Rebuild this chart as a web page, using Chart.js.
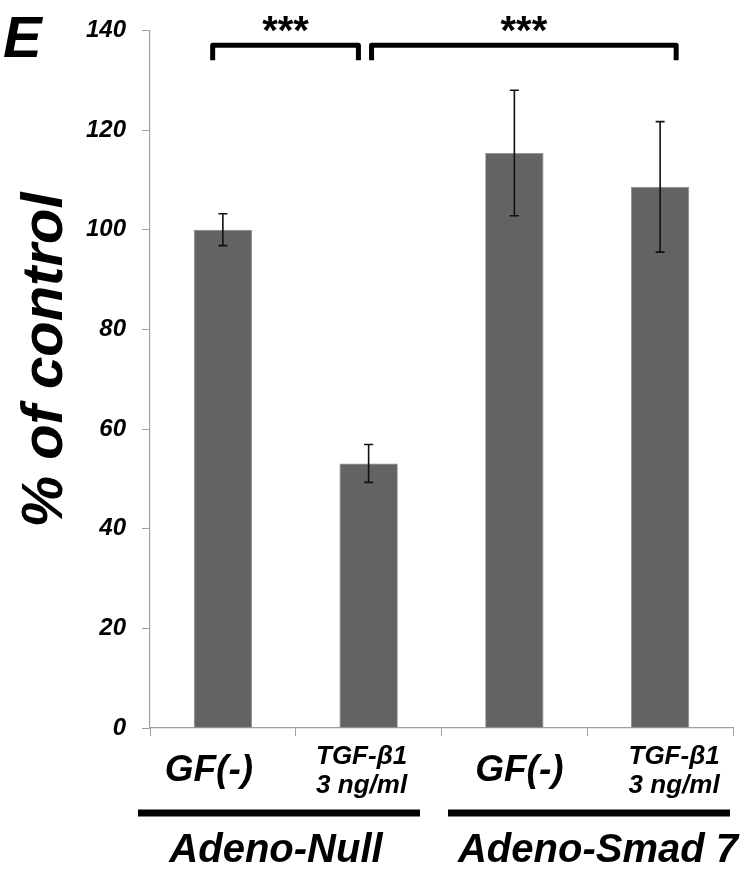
<!DOCTYPE html>
<html>
<head>
<meta charset="utf-8">
<script src="https://cdn.jsdelivr.net/npm/chart.js@4.4.1/dist/chart.umd.min.js"></script>
<style>
  html, body { margin: 0; padding: 0; background: #fff; }
  #wrap { width: 755px; height: 872px; position: relative; }
</style>
</head>
<body>
<div id="wrap"><canvas id="chart"></canvas></div>
<script>
// === data ===
const categories = ['GF(-)', 'TGF-β1|3 ng/ml', 'GF(-)', 'TGF-β1|3 ng/ml'];
const groups = ['Adeno-Null', 'Adeno-Smad 7'];
const percentValues = [100, 53.1, 115.4, 108.6];
const errorValues = [3.2, 3.8, 12.6, 13.1];
const yTicks = [0, 20, 40, 60, 80, 100, 120, 140];
const sigLabels = ['***', '***'];

const FONT = '"Liberation Sans", Arial, sans-serif';

// error bars drawn from the data via the scales
const errorBarPlugin = {
  id: 'errorBars',
  afterDatasetsDraw(chart) {
    const { ctx, scales: { x, y } } = chart;
    ctx.save();
    ctx.strokeStyle = '#111';
    ctx.lineWidth = 1.6;
    percentValues.forEach((v, i) => {
      const cx = x.getPixelForValue(i);
      const top = y.getPixelForValue(v + errorValues[i]);
      const bot = y.getPixelForValue(v - errorValues[i]);
      ctx.beginPath();
      ctx.moveTo(cx, top); ctx.lineTo(cx, bot);
      ctx.moveTo(cx - 4.5, top); ctx.lineTo(cx + 4.5, top);
      ctx.moveTo(cx - 4.5, bot); ctx.lineTo(cx + 4.5, bot);
      ctx.stroke();
    });
    ctx.restore();
  }
};

// brackets, stars, labels, titles
const decorPlugin = {
  id: 'decor',
  afterDraw(chart) {
    const { ctx, scales: { x, y } } = chart;
    const step = x.getPixelForValue(1) - x.getPixelForValue(0);
    ctx.save();

    // panel letter
    ctx.fillStyle = '#000';
    ctx.font = 'italic bold 58px ' + FONT;
    ctx.textBaseline = 'alphabetic';
    ctx.textAlign = 'left';
    ctx.fillText('E', 3, 57);

    // significance brackets
    const brackets = [[-0.07, 0.93], [1.02, 3.11]];
    ctx.lineWidth = 5;
    ctx.lineJoin = 'round';
    ctx.strokeStyle = '#000';
    brackets.forEach((b, k) => {
      const x1 = x.getPixelForValue(0) + b[0] * step;
      const x2 = x.getPixelForValue(0) + b[1] * step;
      const yt = y.getPixelForValue(137);
      const yb = y.getPixelForValue(134);
      ctx.beginPath();
      ctx.moveTo(x1, yb); ctx.lineTo(x1, yt); ctx.lineTo(x2, yt); ctx.lineTo(x2, yb);
      ctx.stroke();
      ctx.font = 'bold 40px ' + FONT;
      ctx.textAlign = 'center';
      ctx.fillText(sigLabels[k], (x1 + x2) / 2, 44);
    });

    // category labels
    const shift = [-14, -7, 5, 14];
    categories.forEach((lab, i) => {
      const cx = x.getPixelForValue(i) + shift[i];
      ctx.textAlign = 'center';
      const parts = lab.split('|');
      if (parts.length === 1) {
        ctx.font = 'italic bold 37px ' + FONT;
        ctx.fillText(parts[0], cx, 781);
      } else {
        ctx.font = 'italic bold 26px ' + FONT;
        ctx.fillText(parts[0], cx, 764);
        ctx.fillText(parts[1], cx, 793);
      }
    });

    // group lines and names
    const groupSpans = [[138, 420, 813], [448, 730, 813]];
    ctx.lineWidth = 7;
    ctx.lineCap = 'butt';
    groupSpans.forEach((g, k) => {
      ctx.beginPath();
      ctx.moveTo(g[0], g[2]); ctx.lineTo(g[1], g[2]);
      ctx.stroke();
      ctx.font = 'italic bold 40px ' + FONT;
      ctx.textAlign = 'center';
      ctx.fillText(groups[k], k ? 598 : 276, 862);
    });

    // y axis title
    ctx.translate(62, 360);
    ctx.rotate(-Math.PI / 2);
    ctx.font = 'italic bold 58px ' + FONT;
    ctx.textAlign = 'center';
    ctx.fillText('% of control', 0, 0);
    ctx.restore();
  }
};

new Chart(document.getElementById('chart'), {
  type: 'bar',
  data: {
    labels: categories,
    datasets: [{
      data: percentValues,
      backgroundColor: '#636363',
      borderColor: '#8a8a8a',
      borderWidth: 0.8,
      categoryPercentage: 1,
      barPercentage: 0.4
    }]
  },
  options: {
    responsive: true,
    maintainAspectRatio: false,
    animation: false,
    layout: { padding: { top: 29, right: 22, left: 0, bottom: 0 } },
    plugins: { legend: { display: false }, tooltip: { enabled: false } },
    scales: {
      x: {
        grid: { drawOnChartArea: false, drawTicks: true, tickLength: 8, color: '#a0a0a0', offset: true },
        border: { color: '#a0a0a0', width: 1.2 },
        ticks: { display: false },
        afterFit(s) { s.height = 144; }
      },
      y: {
        min: 0, max: 140,
        afterBuildTicks(s) { s.ticks = yTicks.map(v => ({ value: v })); },
        grid: { drawOnChartArea: false, drawTicks: true, tickLength: 8, color: '#a0a0a0' },
        border: { color: '#a0a0a0', width: 1.2 },
        ticks: {
          color: '#000',
          padding: 16,
          font: { family: FONT, size: 24, style: 'italic', weight: 'bold' }
        },
        afterFit(s) { s.width = 150; }
      }
    }
  },
  plugins: [errorBarPlugin, decorPlugin]
});
</script>
</body>
</html>
